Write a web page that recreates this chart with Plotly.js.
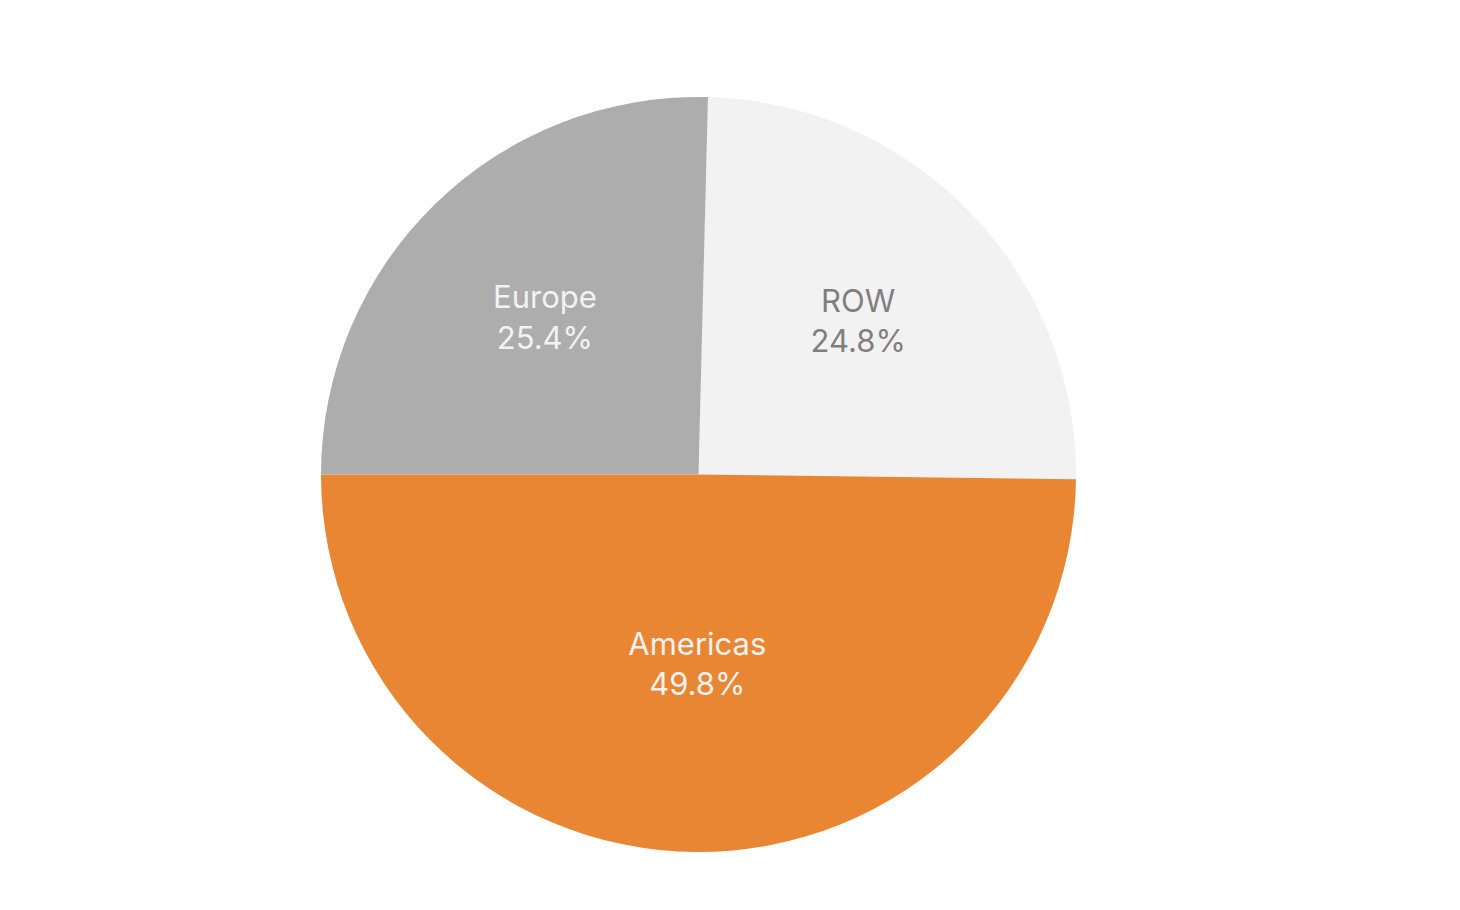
<!DOCTYPE html>
<html>
<head>
<meta charset="utf-8">
<script src="https://cdn.plot.ly/plotly-3.0.1.min.js"></script>
<style>html,body{margin:0;padding:0;background:#fff;}#chart{width:1460px;height:910px;}</style>
</head>
<body>
<div id="chart"></div>
<script>
const regions = ["ROW", "Americas", "Europe"];
const shares = [24.8, 49.8, 25.4];
const sliceColors = ["#F2F2F2", "#E98634", "#ADADAD"];
const textColors = ["#7F7F7F", "#F2F2F2", "#F2F2F2"];

Plotly.newPlot("chart", [{
  type: "pie",
  labels: regions,
  values: shares,
  sort: false,
  direction: "clockwise",
  rotation: 1.44,
  marker: {colors: sliceColors, line: {width: 0}},
  textinfo: "label+percent",
  textposition: "inside",
  insidetextorientation: "horizontal",
  texttemplate: "%{label}<br>%{percent:.1%}",
  insidetextfont: {family: "Inter, 'Noto Sans', sans-serif", size: 31, color: textColors},
  hoverinfo: "label+percent",
  showlegend: false
}], {
  width: 1460,
  height: 910,
  margin: {l: 80, r: 143, t: 97, b: 58},
  paper_bgcolor: "#ffffff",
  plot_bgcolor: "#ffffff",
  showlegend: false
}, {displayModeBar: false, staticPlot: true});
</script>
</body>
</html>
